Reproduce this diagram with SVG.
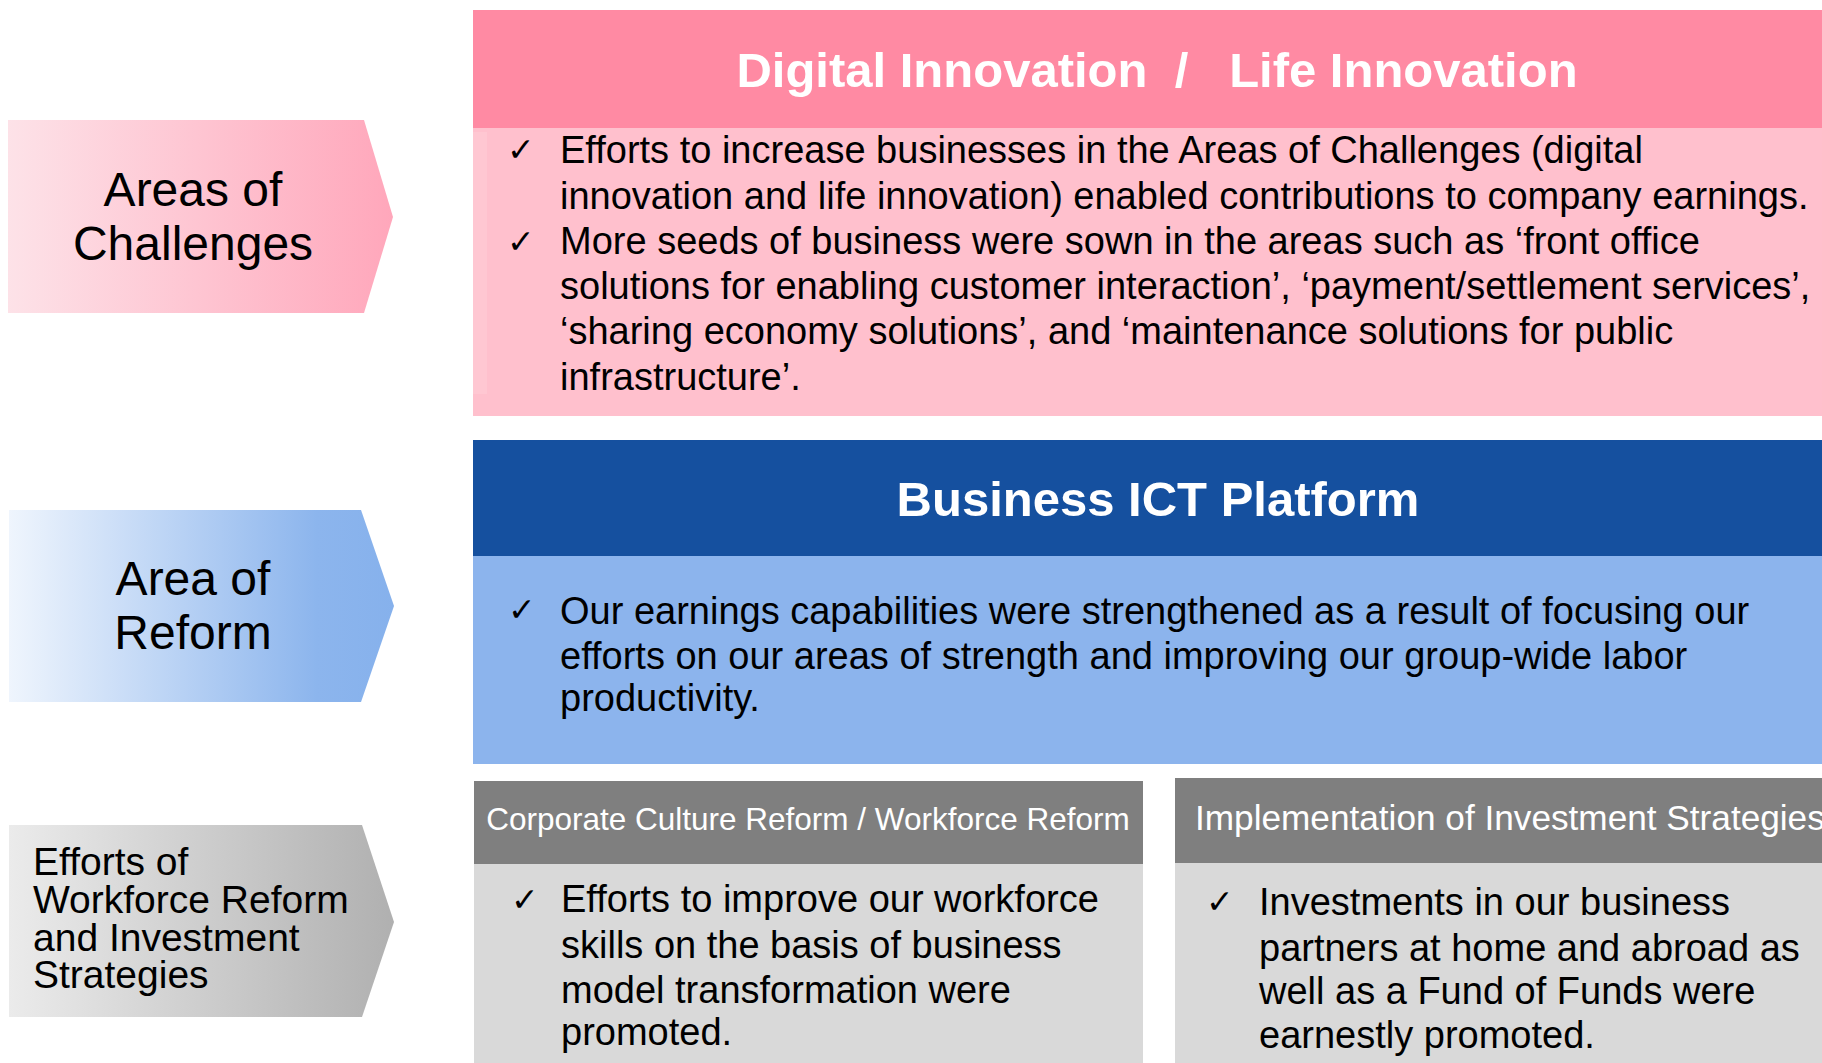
<svg xmlns="http://www.w3.org/2000/svg" width="1822" height="1063" viewBox="0 0 1822 1063">
<defs>
<linearGradient id="gPink" x1="0" y1="0" x2="1" y2="0">
<stop offset="0" stop-color="#fde2e8"/><stop offset="1" stop-color="#ffa7bb"/>
</linearGradient>
<linearGradient id="gBlue" x1="0" y1="0" x2="1" y2="0">
<stop offset="0" stop-color="#eff5fd"/><stop offset="0.8" stop-color="#8cb5ed"/><stop offset="1" stop-color="#86b1ec"/>
</linearGradient>
<linearGradient id="gGray" x1="0" y1="0" x2="1" y2="0">
<stop offset="0" stop-color="#ebebeb"/><stop offset="1" stop-color="#b0b0b0"/>
</linearGradient>
<style>
text{font-family:"Liberation Sans",Arial,sans-serif;fill:#000}
.hd{font-weight:bold;fill:#fff;font-size:49px;text-anchor:middle}
.lab{font-size:48px;text-anchor:middle}
.lab3{font-size:39px}
.body{font-size:38px}
.ck{font-family:"DejaVu Sans",sans-serif;font-size:33px}
.sub{fill:#fff}
</style>
</defs>
<g id="arrow-challenges">
<path d="M8,120 H364 L393,217 L364,313 H8 Z" fill="url(#gPink)"/>
<text class="lab" x="193" y="206">Areas of</text>
<text class="lab" x="193" y="260">Challenges</text>
</g>
<g id="arrow-reform">
<path d="M9,510 H361 L394,606 L361,702 H9 Z" fill="url(#gBlue)"/>
<text class="lab" x="193" y="595">Area of</text>
<text class="lab" x="193" y="649">Reform</text>
</g>
<g id="arrow-efforts">
<path d="M9,825 H362 L394,922 L362,1017 H9 Z" fill="url(#gGray)"/>
<text class="lab3" x="33" y="875">Efforts of</text>
<text class="lab3" x="33" y="913">Workforce Reform</text>
<text class="lab3" x="33" y="951">and Investment</text>
<text class="lab3" x="33" y="988">Strategies</text>
</g>
<g id="panel-digital">
<rect x="473" y="10" width="1349" height="118" fill="#ff8aa3"/>
<rect x="473" y="128" width="1349" height="288" fill="#ffc0cd"/>
<rect x="473" y="132" width="14" height="262" fill="#ffcbd6" opacity="0.6"/>
<text class="hd" x="1157" y="87" xml:space="preserve">Digital Innovation  /   Life Innovation</text>
<text class="ck" x="507" y="161">✓</text>
<text class="body" x="560" y="163">Efforts to increase businesses in the Areas of Challenges (digital</text>
<text class="body" x="560" y="209">innovation and life innovation) enabled contributions to company earnings.</text>
<text class="ck" x="507" y="253">✓</text>
<text class="body" x="560" y="254">More seeds of business were sown in the areas such as ‘front office</text>
<text class="body" x="560" y="299">solutions for enabling customer interaction’, ‘payment/settlement services’,</text>
<text class="body" x="560" y="344">‘sharing economy solutions’, and ‘maintenance solutions for public</text>
<text class="body" x="560" y="390">infrastructure’.</text>
</g>
<g id="panel-ict">
<rect x="473" y="440" width="1349" height="116" fill="#15509f"/>
<rect x="473" y="556" width="1349" height="208" fill="#8cb4ed"/>
<text class="hd" x="1158" y="516">Business ICT Platform</text>
<text class="ck" x="508" y="621">✓</text>
<text class="body" x="560" y="624">Our earnings capabilities were strengthened as a result of focusing our</text>
<text class="body" x="560" y="669">efforts on our areas of strength and improving our group-wide labor</text>
<text class="body" x="560" y="711">productivity.</text>
</g>
<g id="panel-culture">
<rect x="474" y="781" width="669" height="83" fill="#7f7f7f"/>
<rect x="474" y="864" width="669" height="199" fill="#d9d9d9"/>
<text class="sub" x="808" y="830" font-size="31.5" text-anchor="middle">Corporate Culture Reform / Workforce Reform</text>
<text class="ck" x="511" y="911">✓</text>
<text class="body" x="561" y="912">Efforts to improve our workforce</text>
<text class="body" x="561" y="958">skills on the basis of business</text>
<text class="body" x="561" y="1003">model transformation were</text>
<text class="body" x="561" y="1045">promoted.</text>
</g>
<g id="panel-investment">
<rect x="1175" y="778" width="647" height="85" fill="#7f7f7f"/>
<rect x="1175" y="863" width="647" height="200" fill="#d9d9d9"/>
<text class="sub" x="1195" y="830" font-size="35.2">Implementation of Investment Strategies</text>
<text class="ck" x="1206" y="913">✓</text>
<text class="body" x="1259" y="915">Investments in our business</text>
<text class="body" x="1259" y="961">partners at home and abroad as</text>
<text class="body" x="1259" y="1004">well as a Fund of Funds were</text>
<text class="body" x="1259" y="1048">earnestly promoted.</text>
</g>
<g id="connectors"/>
</svg>
